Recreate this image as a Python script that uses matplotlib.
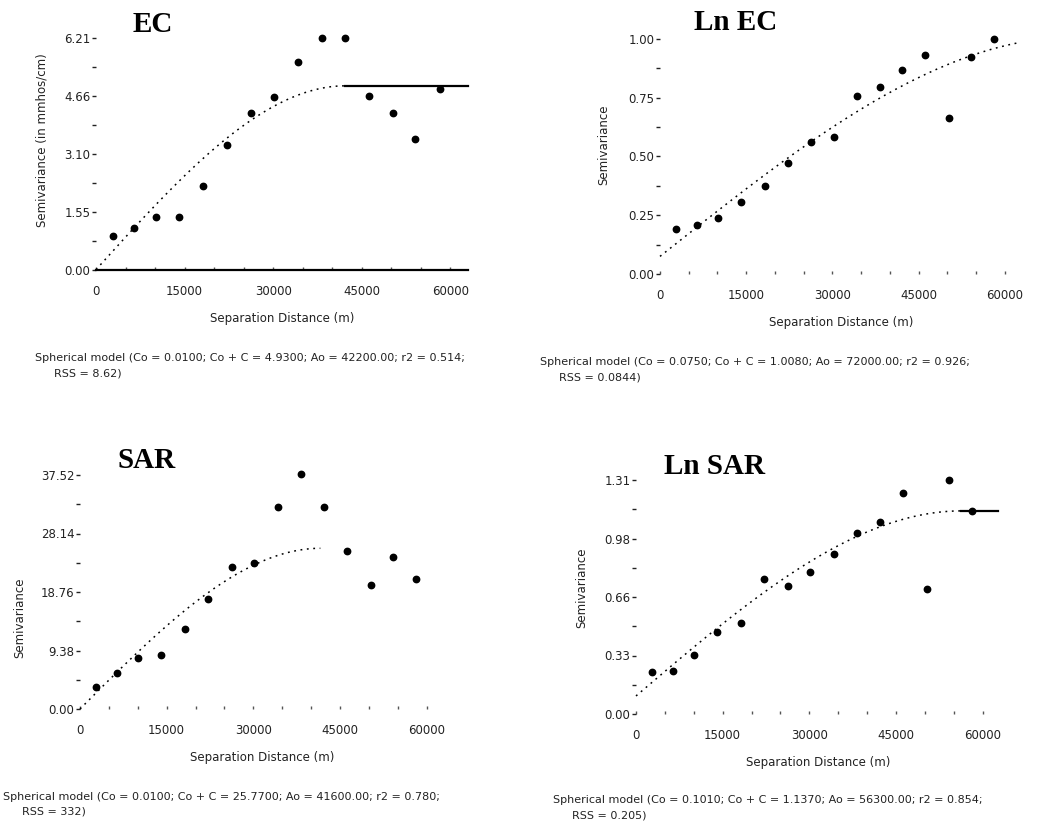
import numpy as np
import matplotlib
matplotlib.use("Agg")
import matplotlib.pyplot as plt
from matplotlib.ticker import FixedLocator, MultipleLocator

# ---- data ----
lag = [2800, 6400, 10100, 14100, 18200, 22200, 26300, 30200,
       34200, 38300, 42200, 46200, 50300, 54100, 58200]

ec_gamma = [0.91, 1.12, 1.41, 1.43, 2.26, 3.35, 4.19, 4.62,
            5.58, 6.22, 6.22, 4.67, 4.19, 3.50, 4.84]
lnec_gamma = [0.19, 0.207, 0.237, 0.308, 0.376, 0.474, 0.563, 0.584,
              0.757, 0.794, 0.868, 0.932, 0.663, 0.925, 1.00]
sar_gamma = [3.57, 5.82, 8.23, 8.66, 12.82, 17.58, 22.71, 23.36,
             32.43, 37.67, 32.43, 25.38, 19.88, 24.41, 20.84]
lnsar_gamma = [0.235, 0.242, 0.328, 0.458, 0.508, 0.756, 0.719, 0.794,
               0.894, 1.012, 1.077, 1.235, 0.699, 1.31, 1.137]

# spherical model parameters: nugget, sill, range
ec_model = (0.0100, 4.9300, 42200.0)
lnec_model = (0.0750, 1.0080, 72000.0)
sar_model = (0.0100, 25.7700, 41600.0)
lnsar_model = (0.1010, 1.1370, 56300.0)

ec_yticks = ["0.00", "1.55", "3.10", "4.66", "6.21"]
lnec_yticks = ["0.00", "0.25", "0.50", "0.75", "1.00"]
sar_yticks = ["0.00", "9.38", "18.76", "28.14", "37.52"]
lnsar_yticks = ["0.00", "0.33", "0.66", "0.98", "1.31"]

ec_caption = ["Spherical model (Co = 0.0100; Co + C = 4.9300; Ao = 42200.00; r2 = 0.514;",
              "RSS = 8.62)"]
lnec_caption = ["Spherical model (Co = 0.0750; Co + C = 1.0080; Ao = 72000.00; r2 = 0.926;",
                "RSS = 0.0844)"]
sar_caption = ["Spherical model (Co = 0.0100; Co + C = 25.7700; Ao = 41600.00; r2 = 0.780;",
               "RSS = 332)"]
lnsar_caption = ["Spherical model (Co = 0.1010; Co + C = 1.1370; Ao = 56300.00; r2 = 0.854;",
                 "RSS = 0.205)"]

W, H = 1063, 825
fig = plt.figure(figsize=(W / 100, H / 100), dpi=100)
TXT = "#222222"


def spherical(h, c0, sill, a):
    h = np.asarray(h, dtype=float)
    r = np.clip(h / a, 0, 1)
    return c0 + (sill - c0) * (1.5 * r - 0.5 * r ** 3)


def px_axes(x0, x1, y0, y1):
    # pixel box (left, right, bottom, top) -> figure axes
    return fig.add_axes([x0 / W, 1 - y0 / H, (x1 - x0) / W, (y0 - y1) / H])


def panel(box, gamma, model, ylabels, ylabel, ylab_pos, title, title_xy,
          cap, cap_xy, curve_end, sill_line=True, baseline=False):
    ax = px_axes(*box)
    ymax = float(ylabels[-1])
    c0, sill, a = model

    # model curve: dotted up to the range, solid sill beyond it
    h = np.linspace(0, min(a, curve_end), 200)
    ax.plot(h, spherical(h, c0, sill, a), color="black", lw=1.1,
            ls=(0, (1.2, 3)), clip_on=False)
    if sill_line and a < curve_end:
        ax.plot([a, curve_end], [sill, sill], color="black", lw=1.6,
                clip_on=False)

    ax.plot(lag, gamma, "o", color="black", ms=4.6, clip_on=False, zorder=3)

    ax.set_xlim(0, 63000)
    ax.set_ylim(0, ymax)
    for s in ["top", "right", "left", "bottom"]:
        ax.spines[s].set_visible(False)
    if baseline:
        ax.spines["bottom"].set_visible(True)
        ax.spines["bottom"].set_linewidth(1.6)

    yt = [ymax * k / 4 for k in range(5)]
    ax.yaxis.set_major_locator(FixedLocator(yt))
    ax.yaxis.set_minor_locator(FixedLocator([ymax * (k + 0.5) / 4 for k in range(4)]))
    ax.set_yticklabels(ylabels)
    ax.set_xticks([0, 15000, 30000, 45000, 60000])
    ax.set_xticklabels(["0", "15000", "30000", "45000", "60000"])
    ax.xaxis.set_minor_locator(MultipleLocator(5000))

    ax.tick_params(axis="y", which="both", direction="out", length=3,
                   width=1, pad=1, labelsize=8.5, labelcolor=TXT, color=TXT)
    ax.tick_params(axis="x", which="both", direction="in", length=2,
                   width=1, pad=11, labelsize=8.5, labelcolor=TXT, color="#555555")
    ax.set_xlabel("Separation Distance (m)", fontsize=8.5, color=TXT, labelpad=10)
    ax.set_ylabel(ylabel, fontsize=8.5, color=TXT)
    ax.yaxis.set_label_coords(*ylab_pos)

    fig.text(title_xy[0] / W, 1 - title_xy[1] / H, title, family="Liberation Serif",
             fontweight="bold", fontsize=21, ha="center", va="center")
    fig.text(cap_xy[0] / W, 1 - cap_xy[1] / H, cap[0], fontsize=8,
             color=TXT, ha="left", va="center")
    fig.text((cap_xy[0] + 19) / W, 1 - (cap_xy[1] + 15) / H, cap[1], fontsize=8,
             color=TXT, ha="left", va="center")
    return ax


panel((96, 468, 270, 38), ec_gamma, ec_model, ec_yticks,
      "Semivariance (in mmhos/cm)", (-0.129, 0.56), "EC", (153, 25),
      ec_caption, (35, 358), 63000, baseline=True)
panel((660, 1022, 274, 39), lnec_gamma, lnec_model, lnec_yticks,
      "Semivariance", (-0.138, 0.55), "Ln EC", (736, 23),
      lnec_caption, (540, 362), 62300)
panel((80, 444, 709, 475), sar_gamma, sar_model, sar_yticks,
      "Semivariance", (-0.148, 0.39), "SAR", (147, 460),
      sar_caption, (3, 797), 63000, sill_line=False)
panel((636, 1000, 714, 480), lnsar_gamma, lnsar_model, lnsar_yticks,
      "Semivariance", (-0.132, 0.54), "Ln SAR", (714, 467),
      lnsar_caption, (553, 800), 62700)

fig.savefig("out.png", dpi=100)
